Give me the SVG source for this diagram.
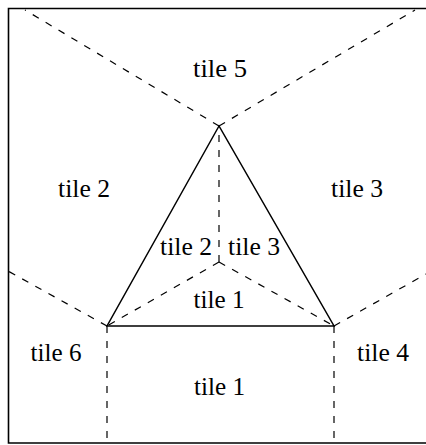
<svg xmlns="http://www.w3.org/2000/svg" width="426" height="445" viewBox="0 0 426 445">
<style>
.frame{fill:none;stroke:#000;stroke-width:1.6}
.solid{fill:none;stroke:#000;stroke-width:1.5}
.dash{fill:none;stroke:#000;stroke-width:1.2;stroke-dasharray:7 8}
.lbl{font-size:25px;fill:#000;text-anchor:middle}
</style>
<rect width="426" height="445" fill="#fff"/>
<g id="frame">
<path class="frame" d="M426,8.5 H8.5 V443 H426"/>
</g>
<g id="connectors">
<path class="dash" d="M219,126 L25,10"/>
<path class="dash" d="M219,126 L415,10"/>
<path class="dash" d="M107,326 L8,271"/>
<path class="dash" d="M334,326 L426,274"/>
<path class="dash" d="M107,326 V443"/>
<path class="dash" d="M334,326 V443"/>
<path class="dash" d="M219,262 V126"/>
<path class="dash" d="M219,262 L107,326"/>
<path class="dash" d="M219,262 L334,326"/>
</g>
<g id="triangle">
<path class="solid" d="M219,126 L107,326 L334,326 Z"/>
</g>
<g id="labels" font-family="Liberation Serif, Times New Roman, DejaVu Serif, serif">
<text class="lbl" id="t5" x="220" y="77" textLength="54" lengthAdjust="spacingAndGlyphs">tile 5</text>
<text class="lbl" id="t2o" x="84" y="197" textLength="52" lengthAdjust="spacingAndGlyphs">tile 2</text>
<text class="lbl" id="t3o" x="357" y="197" textLength="52" lengthAdjust="spacingAndGlyphs">tile 3</text>
<text class="lbl" id="t2i" x="186" y="255" textLength="52" lengthAdjust="spacingAndGlyphs">tile 2</text>
<text class="lbl" id="t3i" x="254" y="255" textLength="52" lengthAdjust="spacingAndGlyphs">tile 3</text>
<text class="lbl" id="t1i" x="219" y="308" textLength="51" lengthAdjust="spacingAndGlyphs">tile 1</text>
<text class="lbl" id="t6" x="56" y="361" textLength="51" lengthAdjust="spacingAndGlyphs">tile 6</text>
<text class="lbl" id="t4" x="383" y="361" textLength="52" lengthAdjust="spacingAndGlyphs">tile 4</text>
<text class="lbl" id="t1o" x="219.5" y="395" textLength="51" lengthAdjust="spacingAndGlyphs">tile 1</text>
</g>
</svg>
